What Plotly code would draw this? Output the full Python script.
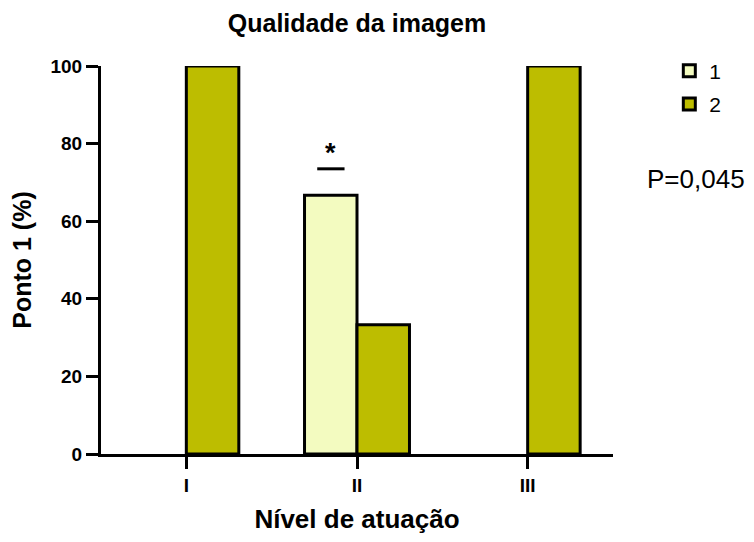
import plotly.graph_objects as go

categories = ["I", "II", "III"]
series1 = [0, 66.7, 0]
series2 = [100, 33.3, 100]
y_ticks = [0, 20, 40, 60, 80, 100]

FONT = "Liberation Sans, Arial, sans-serif"


def drawn(vals):
    # zero-height bars are not drawn in the reference
    return [v if v > 0 else None for v in vals]


fig = go.Figure()
fig.add_trace(go.Bar(name="1", x=categories, y=drawn(series1), legendgroup="a",
                     marker=dict(color="#F3FBC0", line=dict(color="black", width=3))))
fig.add_trace(go.Bar(name="2", x=categories, y=drawn(series2), legendgroup="b",
                     marker=dict(color="#BDBD00", line=dict(color="black", width=3))))

fig.update_layout(
    width=738, height=526,
    barmode="group", bargap=0.385, bargroupgap=0,
    plot_bgcolor="white", paper_bgcolor="white",
    margin=dict(l=93, r=133, t=58, b=80, autoexpand=False),
    font=dict(family=FONT, color="black"),
    title=dict(text="Qualidade da imagem", x=0.5, xref="paper", xanchor="center",
               y=0.988, yanchor="top", font=dict(size=25, family=FONT, weight="bold")),
    legend=dict(x=1.11, y=1.04, xanchor="left", yanchor="top",
                font=dict(size=21, family=FONT), tracegroupgap=3, itemwidth=30),
    showlegend=True,
)
fig.update_xaxes(
    showline=True, linecolor="black", linewidth=3, automargin=False,
    ticks="outside", ticklen=12, tickwidth=3, tickcolor="black",
    tickfont=dict(size=19, family=FONT, weight="bold"),
    title=dict(text="<b>Nível de atuação</b>", font=dict(size=26, family=FONT), standoff=20),
    range=[-0.5, 2.5], showgrid=False,
)
fig.update_yaxes(
    showline=True, linecolor="black", linewidth=3, automargin=False,
    ticks="outside", ticklen=12, tickwidth=3, tickcolor="black",
    tickvals=y_ticks, tickfont=dict(size=19, family=FONT, weight="bold"),
    title=dict(text="<b>Ponto 1 (%)</b>", font=dict(size=25, family=FONT), standoff=14),
    range=[0, 100], showgrid=False, zeroline=False,
)

# significance marker
fig.add_shape(type="line", xref="x", yref="y", x0=0.767, x1=0.927, y0=73.5, y1=73.5,
              line=dict(color="black", width=3))
fig.add_annotation(x=0.847, y=73.2, xref="x", yref="y", text="<b>*</b>", showarrow=False,
                   yanchor="bottom", font=dict(size=27, family=FONT))
fig.add_annotation(x=1.0, xref="paper", xanchor="left", y=0.709, yref="paper",
                   yanchor="middle", text="P=0,045", showarrow=False, xshift=32,
                   font=dict(size=26, family=FONT))

fig.write_html("out.html")
